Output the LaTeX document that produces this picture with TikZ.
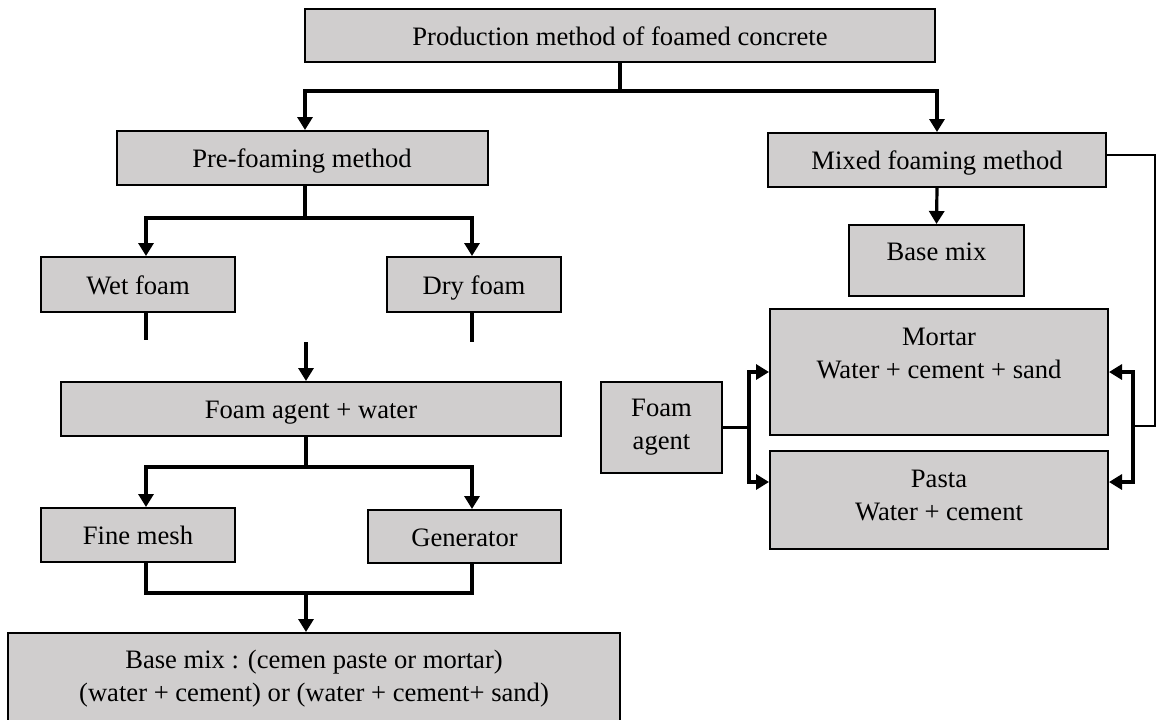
\documentclass[tikz,border=0pt]{standalone}
\usepackage{fontspec}
\setmainfont{Liberation Serif}
\usetikzlibrary{arrows.meta, positioning}
\definecolor{boxgray}{RGB}{208,206,206}
\tikzset{
  blk/.style={rectangle, draw=black, fill=boxgray, line width=1pt,
    align=center, inner sep=2pt,
    font=\fontsize{13.3}{16.5}\selectfont},
  blk1/.style={blk, text height=10pt, text depth=0.5pt},
  ln/.style={line width=1.6pt},
  lnR/.style={line width=1pt},
  arr/.style={ln, -{Triangle[width=7.5pt,length=6.5pt]}},
}

\begin{document}
\begin{tikzpicture}[x=0.5pt, y=-0.5pt]
  \useasboundingbox (0,0) rectangle (1156,719);

  \node[blk1, minimum width=315pt, minimum height=26.5pt] (top) at (620,35.5)
       {Production method of foamed concrete};

  \node[blk1, minimum width=185.5pt, minimum height=27pt] (pre) at (302,158)
       {Pre-foaming method};
  \node[blk1, minimum width=169pt, minimum height=27pt] (mixed) at (937,160)
       {Mixed foaming method};

  \node[blk1, minimum width=97pt, minimum height=27.5pt] (wet) at (138,284.5)
       {Wet foam};
  \node[blk1, minimum width=87pt, minimum height=27.5pt] (dry) at (474,284.5)
       {Dry foam};

  \node[blk, minimum width=87.5pt, minimum height=35.5pt, text height=9pt, text depth=9.5pt] (basemix) at (936.5,260.5)
       {Base mix};

  \node[blk1, minimum width=250pt, minimum height=27pt] (agentw) at (311,409)
       {Foam agent + water};

  \node[blk, minimum width=169pt, minimum height=63pt, text depth=19pt] (mortar) at (939,372)
       {Mortar\\Water + cement + sand};
  \node[blk, minimum width=169pt, minimum height=49pt, text depth=5pt] (pasta) at (939,500)
       {Pasta\\Water + cement};
  \node[blk, minimum width=60.5pt, minimum height=45.5pt] (foam) at (661.5,427.5)
       {Foam\\agent};

  \node[blk1, minimum width=97pt, minimum height=27pt] (fine) at (138,535)
       {Fine mesh};
  \node[blk1, minimum width=96.5pt, minimum height=26.5pt] (gen) at (464.5,536.5)
       {Generator};

  \node[blk, minimum width=306pt, minimum height=46pt] (big) at (314,679)
       {Base mix : (cemen paste or mortar)\\(water + cement) or (water + cement+ sand)};

  \coordinate (gap)   at (306,342);
  \coordinate (merge) at (306,593);
  \coordinate (rc)    at (1155,426);
  \coordinate (rj)    at (1133,426);

  \draw[arr] (top.south) -- ++(0,28) -| ([xshift=1.5pt]pre.north);
  \draw[arr] (top.south) -- ++(0,28) -| (mixed.north);
  \draw[arr] (mixed.south) -- (basemix.north);

  \draw[arr] ([xshift=1.5pt]pre.south) -- ++(0,32) -| ([xshift=4pt]wet.north);
  \draw[arr] ([xshift=1.5pt]pre.south) -- ++(0,32) -| ([xshift=-1pt]dry.north);
  \draw[ln] ([xshift=4pt]wet.south) -- ++(0,27);
  \draw[ln] ([xshift=-1pt]dry.south) -- ++(0,29);
  \draw[arr] (gap) -- (gap |- agentw.north);

  \draw[arr] ([xshift=-2.5pt]agentw.south) -- ++(0,30) -| ([xshift=4pt]fine.north);
  \draw[arr] ([xshift=-2.5pt]agentw.south) -- ++(0,30) -| ([xshift=3.75pt]gen.north);
  \draw[ln] ([xshift=4pt]fine.south) |- (merge) -| ([xshift=3.75pt]gen.south);
  \draw[arr] (merge) -- (merge |- big.north);

  \draw[ln] (foam.east) -- ++(26,0) coordinate (fj);
  \draw[arr] (fj) |- (mortar.west);
  \draw[arr] (fj) |- ([yshift=9pt]pasta.west);

  \draw[lnR] ([yshift=2.5pt]mixed.east) -| (rc) -- (rj);
  \draw[arr] (rj) |- (mortar.east);
  \draw[arr] (rj) |- ([yshift=9pt]pasta.east);
\end{tikzpicture}
\end{document}
